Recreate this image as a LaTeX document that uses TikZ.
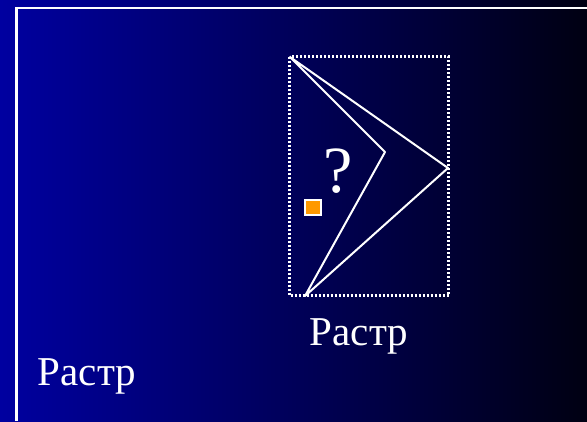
\documentclass[tikz,border=0pt]{standalone}
\usepackage{fontspec}
\setmainfont{Liberation Serif}
\definecolor{bgblue}{RGB}{0,0,160}
\definecolor{bgmid}{RGB}{0,0,92}
\definecolor{bgend}{RGB}{0,0,18}
\definecolor{mark}{RGB}{255,153,0}

\begin{document}
\begin{tikzpicture}[x=1pt,y=-1pt,every node/.style={text=white,inner sep=0pt,font=\fontsize{41}{41}\selectfont}]
\useasboundingbox (0,0) rectangle (587,421);
\shade[left color=bgblue,middle color=bgmid,right color=bgend] (0,0) rectangle (587,421);
% frame
\draw[white,line width=2.6pt] (16.5,421) -- (16.5,8) -- (587,8);
% raster window
\draw[white,line width=2.2pt,dash pattern=on 2pt off 2pt] (289.5,56.5) rectangle (448.5,295.5);
\coordinate (tip) at (290,57);
\coordinate (bend) at (385,152);
\coordinate (foot) at (305,296);
\coordinate (nose) at (448,168);
\draw[white,line width=2pt,line join=round] (tip) -- (bend) -- (foot) -- (nose) -- cycle;
\filldraw[fill=mark,draw=white,line width=2.4pt] (305,200) rectangle (321,215);
\node (ask) at (338,192) [anchor=base,font=\fontsize{66}{66}\selectfont] {?};
% labels
\node (raster) at (359,345) [anchor=base] {Растр};
\node (rastercorner) at (87,385) [anchor=base] {Растр};
\end{tikzpicture}
\end{document}
